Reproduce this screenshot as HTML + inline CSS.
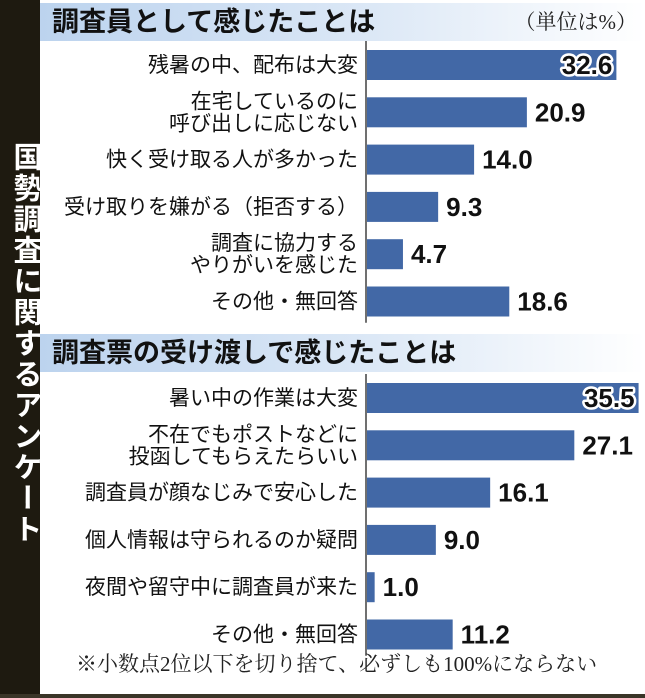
<!DOCTYPE html>
<html><head><meta charset="utf-8"><style>
body{margin:0;width:645px;height:698px;background:#fff;overflow:hidden;font-family:"Liberation Sans","Noto Sans CJK JP",sans-serif;}
#root{position:relative;width:645px;height:698px;}
.side{position:absolute;left:0;top:0;width:40px;height:698px;background:#1e1a10;}
.side span{position:absolute;left:4px;top:142px;writing-mode:vertical-rl;color:#fff;font-size:29px;font-weight:bold;letter-spacing:2px;}
.hdr{position:absolute;left:40px;height:38px;background:linear-gradient(90deg,#bcd3ee 0%,#dce8f6 55%,#fff 100%);font-weight:bold;font-size:27px;color:#111;line-height:38px;padding-left:12px;box-sizing:border-box;width:605px;}
.unit{position:absolute;right:8px;top:6px;font-family:"Liberation Serif","Noto Serif CJK SC",serif;font-size:21px;color:#222;}
.foot{position:absolute;left:76px;top:648px;font-family:"Liberation Serif","Noto Serif CJK SC",serif;font-size:21px;color:#222;}
.bottom{position:absolute;left:0;top:694px;width:645px;height:4px;background:#3a3528;}
</style></head><body>
<div id="root">
<div class="side"><span>国勢調査に関するアンケート</span></div>
<div class="hdr" style="top:3px">調査員として感じたことは</div>
<div class="unit">（単位は%）</div>
<div class="hdr" style="top:334px">調査票の受け渡しで感じたことは</div>
<svg id="svg" width="645" height="698" style="position:absolute;left:0;top:0"></svg>
<div class="foot">※小数点2位以下を切り捨て、必ずしも100%にならない</div>
<div class="bottom"></div>
</div>
<script>
const cats1=[["残暑の中、配布は大変"],["在宅しているのに","呼び出しに応じない"],["快く受け取る人が多かった"],["受け取りを嫌がる（拒否する）"],["調査に協力する","やりがいを感じた"],["その他・無回答"]];
const vals1=[32.6,20.9,14.0,9.3,4.7,18.6];
const cats2=[["暑い中の作業は大変"],["不在でもポストなどに","投函してもらえたらいい"],["調査員が顔なじみで安心した"],["個人情報は守られるのか疑問"],["夜間や留守中に調査員が来た"],["その他・無回答"]];
const vals2=[35.5,27.1,16.1,9.0,1.0,11.2];
const NS="http://www.w3.org/2000/svg";
const svg=document.getElementById('svg');
const x0=366, sc=7.65;
function xs(v){return x0+v*sc;}
function mk(t,a){const e=document.createElementNS(NS,t);for(const k in a)e.setAttribute(k,a[k]);svg.appendChild(e);return e;}
function section(cats,vals,top,sec){
  const step=47.3;
  const ax=mk('line',{x1:x0,x2:x0,y1:top-6,y2:top+step*6-8,stroke:'#111','stroke-width':1.2});
  
  
  const maxv=Math.max(...vals);
  vals.forEach((v,i)=>{
    const cy=top+18+i*step;
    const r=mk('rect',{x:x0+1,y:cy-15,width:xs(v)-x0,height:30,fill:'#4268a6'});
    
    
    const inside=v===maxv;
    const t=mk('text',{x:inside?xs(v)-3:xs(v)+9,y:cy+9,'font-size':26,'font-weight':'bold','text-anchor':inside?'end':'start',fill:'#111','font-family':'Liberation Sans, sans-serif'});
    if(inside){t.setAttribute('stroke','#fff');t.setAttribute('stroke-width','5');t.setAttribute('paint-order','stroke');t.setAttribute('stroke-linejoin','round');}
    t.textContent=v.toFixed(1);
    
    
    const lines=cats[i];
    lines.forEach((l,j)=>{
      const ly=lines.length===1?cy+7:cy-4+j*22;
      const lt=mk('text',{x:358,y:ly,'font-size':21,'text-anchor':'end',fill:'#111','font-family':'Liberation Sans, Noto Sans CJK JP, sans-serif'});
      lt.textContent=l;
      
      
    });
  });
}
section(cats1,vals1,47,1);
section(cats2,vals2,380,2);
</script>
</body></html>
